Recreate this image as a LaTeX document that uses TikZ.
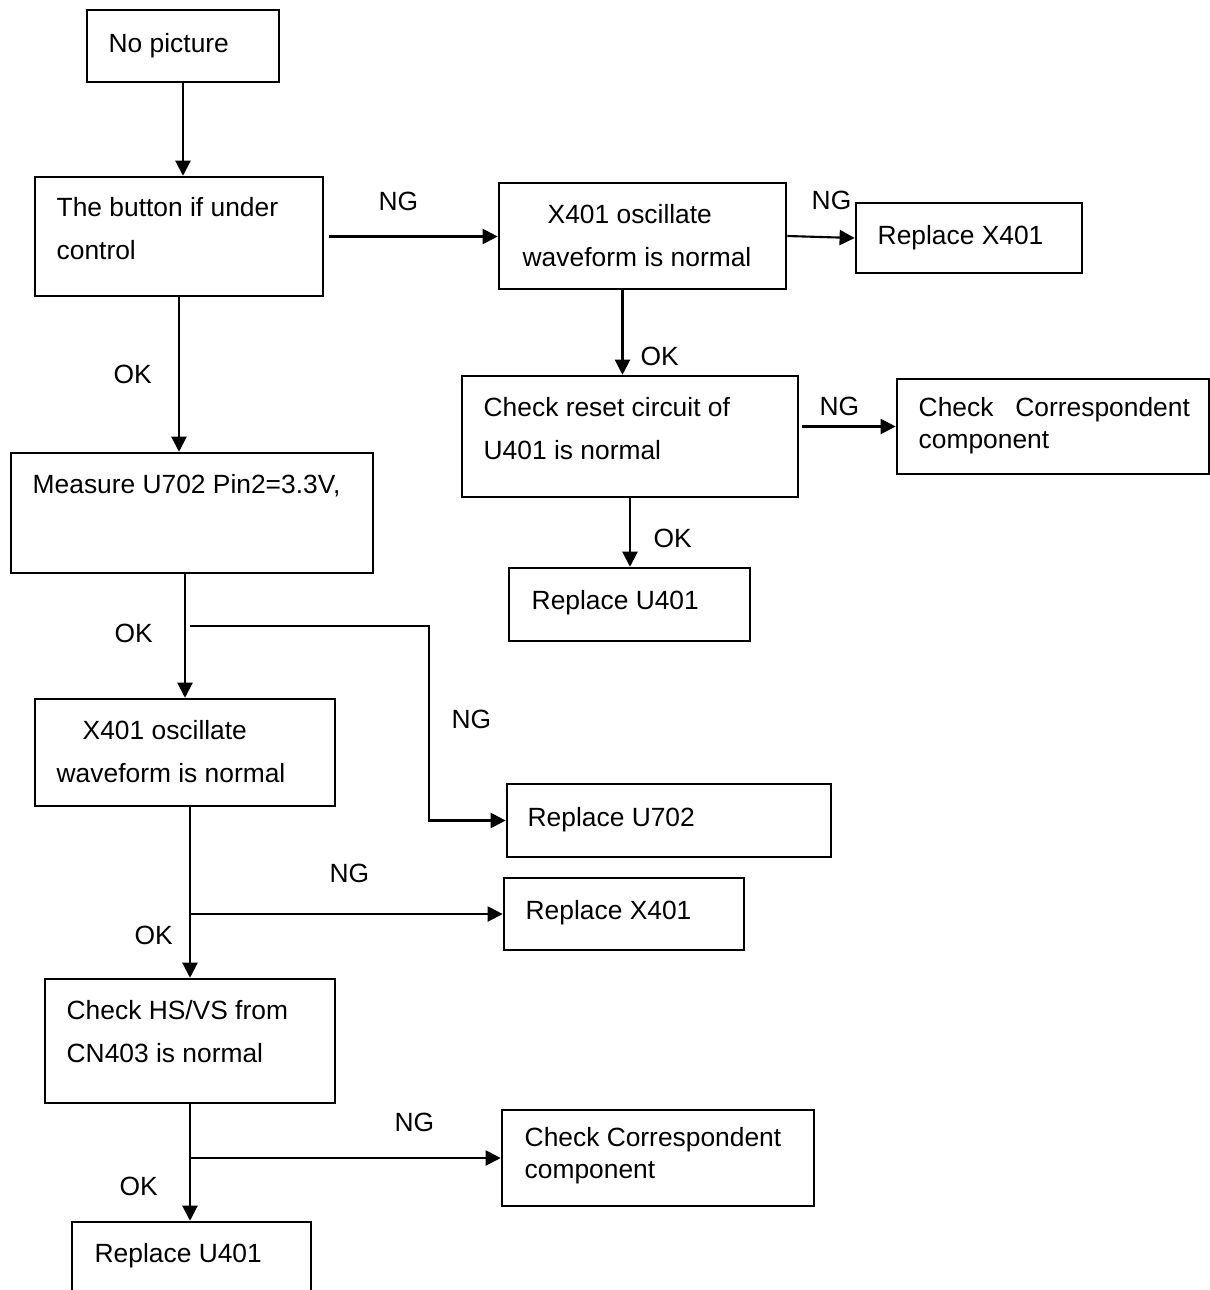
\documentclass[tikz,border=0pt]{standalone}
\usepackage{fontspec}
\setmainfont{Liberation Sans}
\usetikzlibrary{arrows.meta, positioning, calc}

\begin{document}
\begin{tikzpicture}[
    x=0.01cm, y=-0.01cm,
    font=\fontsize{7.5}{12}\selectfont,
    bx/.style 2 args={draw, line width=0.7pt, inner sep=0pt,
                      minimum width=#1, minimum height=#2},
    txt/.style={anchor=base west, inner sep=0pt, align=left},
    tight/.style={txt, font=\fontsize{7.5}{9.1}\selectfont},
    lbl/.style={anchor=base west, inner sep=0pt},
    ar/.style={-{Triangle[length=4.3pt, width=4.3pt]}, line width=0.6pt},
  ]
  \useasboundingbox (0,0) rectangle (1210,1290);

  % Main column (two-line texts sit on their last baseline)
  \node[bx={1.92cm}{0.72cm}] (nopic) at (183,46) {};
  \node[txt] (t-nopic) at (108,52) {No picture};
  \node[bx={2.88cm}{1.19cm}] (button) at (179,236.5) {};
  \node[txt] (t-button) at (56,259) {The button if under\\control};
  \node[bx={3.62cm}{1.20cm}] (measure) at (192,513) {};
  \node[txt] (t-measure) at (32,493) {Measure U702 Pin2=3.3V,};
  \node[bx={3.00cm}{1.07cm}] (oscB) at (185,752.5) {};
  \node[txt] (t-oscB) at (56,782) {\hspace*{0.26cm}X401 oscillate\\waveform is normal};
  \node[bx={2.90cm}{1.24cm}] (hsvs) at (190,1041) {};
  \node[txt] (t-hsvs) at (66,1062) {Check HS/VS from\\CN403 is normal};
  \node[bx={2.39cm}{0.72cm}] (repUb) at (191.5,1258) {};
  \node[txt] (t-repUb) at (94,1262) {Replace U401};

  % Upper right branch
  \node[bx={2.87cm}{1.06cm}] (oscA) at (642.5,236) {};
  \node[txt] (t-oscA) at (522,266) {\hspace*{0.25cm}X401 oscillate\\waveform is normal};
  \node[bx={2.26cm}{0.70cm}] (repXa) at (969,238) {};
  \node[txt] (t-repXa) at (877,244) {Replace X401};
  \node[bx={3.36cm}{1.21cm}] (reset) at (630,436.5) {};
  \node[txt] (t-reset) at (483,459) {Check reset circuit of\\U401 is normal};
  \node[bx={3.12cm}{0.95cm}] (corrA) at (1053,426.5) {};
  \node[tight] (t-corrA) at (918,448) {Check~~~Correspondent\\component};
  \node[bx={2.41cm}{0.73cm}] (repUa) at (629.5,604.5) {};
  \node[txt] (t-repUa) at (531,609) {Replace U401};

  % Lower right boxes
  \node[bx={3.24cm}{0.73cm}] (repU702) at (669,820.5) {};
  \node[txt] (t-repU702) at (527,826) {Replace U702};
  \node[bx={2.40cm}{0.72cm}] (repXb) at (624,914) {};
  \node[txt] (t-repXb) at (525,919) {Replace X401};
  \node[bx={3.12cm}{0.96cm}] (corrB) at (658,1158) {};
  \node[tight] (t-corrB) at (524,1178) {Check Correspondent\\component};

  % Connectors
  \draw[ar] (nopic.south) -- (nopic.south |- button.north);
  \draw[ar, shorten <=0.05cm] (button.east) -- (button.east -| oscA.west);
  \draw[ar] (oscA.east) -- (repXa.west);
  \draw[ar] ([xshift=-0.2cm]oscA.south) -- ([xshift=-0.2cm]oscA.south |- reset.north);
  \draw[ar, shorten <=0.03cm] (reset.east |- corrA.west) -- (corrA.west);
  \draw[ar] (reset.south) -- (reset.south |- repUa.north);
  \draw[ar] (button.south) -- (button.south |- measure.north);
  \draw[ar] (oscB.north |- measure.south) -- (oscB.north);
  \coordinate (ngA) at (190,626);
  \draw[ar] (ngA) -| ([xshift=-0.77cm]repU702.west) -- (repU702.west);
  \draw[ar] (hsvs.north |- oscB.south) -- (hsvs.north);
  \draw[ar] (repXb.west -| hsvs.north) -- (repXb.west);
  \draw[ar] (hsvs.south) -- (hsvs.south |- repUb.north);
  \draw[ar] (corrB.west -| hsvs.south) -- (corrB.west);

  % OK / NG labels
  \node[lbl] (ng1) at (378,210) {NG};
  \node[lbl] (ng2) at (811,209) {NG};
  \node[lbl] (ok1) at (640,365) {OK};
  \node[lbl] (ng3) at (819,415) {NG};
  \node[lbl] (ok2) at (653,547) {OK};
  \node[lbl] (ok3) at (113,383) {OK};
  \node[lbl] (ok4) at (114,642) {OK};
  \node[lbl] (ng4) at (451,728) {NG};
  \node[lbl] (ng5) at (329,882) {NG};
  \node[lbl] (ok5) at (134,944) {OK};
  \node[lbl] (ng6) at (394,1131) {NG};
  \node[lbl] (ok6) at (119,1195) {OK};
\end{tikzpicture}
\end{document}
